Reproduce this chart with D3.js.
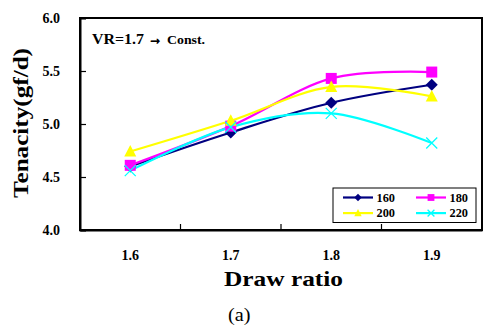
<!DOCTYPE html>
<html>
<head>
<meta charset="utf-8">
<script src="https://cdn.jsdelivr.net/npm/d3@7"></script>
<style>
  body { margin: 0; background: #fff; }
  svg { display: block; font-family: "Liberation Serif", "Times New Roman", serif; }
</style>
</head>
<body>
<div id="chart"></div>
<script>
const drawRatios = ['1.6', '1.7', '1.8', '1.9'];
const yTicks = [4.0, 4.5, 5.0, 5.5, 6.0];
const s160 = [4.60, 4.92, 5.20, 5.37];
const s180 = [4.61, 4.98, 5.43, 5.49];
const s200 = [4.74, 5.03, 5.35, 5.26];
const s220 = [4.56, 4.97, 5.10, 4.82];

const series = [
  { name: '160', values: s160, color: '#000080', shape: 'diamond' },
  { name: '180', values: s180, color: '#ff00ff', shape: 'square' },
  { name: '200', values: s200, color: '#ffff00', shape: 'triangle' },
  { name: '220', values: s220, color: '#00ffff', shape: 'cross' },
];

const W = 483, H = 329;
const margin = { top: 18, right: 1, bottom: 99, left: 80 };
const width = W - margin.left - margin.right;
const height = H - margin.top - margin.bottom;

const svg = d3.select('#chart').append('svg')
  .attr('width', W).attr('height', H);
const g = svg.append('g').attr('transform', `translate(${margin.left},${margin.top})`);

const x = d3.scaleBand().domain(drawRatios).range([0, width]);
const y = d3.scaleLinear().domain([4, 6]).range([height, 0]);

// frame
g.append('rect')
  .attr('x', 0).attr('y', 0).attr('width', width).attr('height', height)
  .attr('fill', 'none').attr('stroke', '#000').attr('stroke-width', 2);

// y axis, ticks point inward
const yAxis = g.append('g')
  .call(d3.axisLeft(y).tickValues(yTicks).tickSize(-6).tickFormat(d3.format('.1f')).tickPadding(20));
yAxis.select('.domain').attr('stroke-width', 2);
yAxis.selectAll('.tick line').attr('stroke-width', 1.2);
yAxis.selectAll('.tick text')
  .attr('font-size', 14).attr('font-weight', 'bold').attr('fill', '#000')
  .attr('font-family', '"Liberation Serif", serif');

// x axis: labels centred in bands, separators between them
const xAxis = g.append('g').attr('transform', `translate(0,${height})`)
  .call(d3.axisBottom(x).tickSize(0).tickPadding(20));
xAxis.select('.domain').attr('stroke-width', 2);
xAxis.selectAll('.tick text')
  .attr('font-size', 14).attr('font-weight', 'bold').attr('fill', '#000')
  .attr('font-family', '"Liberation Serif", serif');
g.selectAll('.xsep')
  .data(drawRatios.slice(1))
  .enter().append('line')
  .attr('x1', d => x(d)).attr('x2', d => x(d))
  .attr('y1', height).attr('y2', height - 6)
  .attr('stroke', '#000').attr('stroke-width', 1.2);

// smoothed lines
const line = d3.line()
  .x((d, i) => x(drawRatios[i]) + x.bandwidth() / 2)
  .y(d => y(d))
  .curve(d3.curveCardinal.tension(0));

g.selectAll('.series-line')
  .data(series)
  .enter().append('path')
  .attr('class', 'series-line')
  .attr('d', d => line(d.values))
  .attr('fill', 'none')
  .attr('stroke', d => d.color)
  .attr('stroke-width', 2.2);

function drawMarker(sel, shape, color, k) {
  if (shape === 'diamond') {
    sel.append('path').attr('d', `M0,${-6 * k}L${6 * k},0L0,${6 * k}L${-6 * k},0Z`).attr('fill', color);
  } else if (shape === 'square') {
    sel.append('rect').attr('x', -5.5 * k).attr('y', -5.5 * k)
      .attr('width', 11 * k).attr('height', 11 * k).attr('fill', color);
  } else if (shape === 'triangle') {
    sel.append('path').attr('d', `M0,${-6.5 * k}L${6 * k},${5 * k}L${-6 * k},${5 * k}Z`).attr('fill', color);
  } else {
    const r = 5.5 * k;
    sel.append('path').attr('d', `M${-r},${-r}L${r},${r}M${r},${-r}L${-r},${r}`)
      .attr('stroke', color).attr('stroke-width', 1.3).attr('fill', 'none');
  }
}

series.forEach(s => {
  s.values.forEach((v, i) => {
    const m = g.append('g')
      .attr('transform', `translate(${x(drawRatios[i]) + x.bandwidth() / 2},${y(v)})`);
    drawMarker(m, s.shape, s.color, 1);
  });
});

// legend
const lg = svg.append('g').attr('transform', 'translate(333,188)');
lg.append('rect').attr('width', 143).attr('height', 34.5)
  .attr('fill', '#fff').attr('stroke', '#000').attr('stroke-width', 1);
series.forEach((s, i) => {
  const col = i % 2, row = Math.floor(i / 2);
  const item = lg.append('g').attr('transform', `translate(${10 + col * 73},${9.5 + row * 15.6})`);
  item.append('line').attr('x1', 0).attr('x2', 30).attr('stroke', s.color).attr('stroke-width', 2.2);
  const m = item.append('g').attr('transform', 'translate(15,0)');
  drawMarker(m, s.shape, s.color, 0.62);
  item.append('text').attr('x', 33.5).attr('y', 4.3)
    .attr('font-size', 12).attr('font-weight', 'bold')
    .attr('textLength', 18.5).attr('lengthAdjust', 'spacingAndGlyphs')
    .text(s.name);
});

// annotation
svg.append('text').attr('x', 92).attr('y', 44)
  .attr('font-size', 14).attr('font-weight', 'bold')
  .attr('textLength', 52).attr('lengthAdjust', 'spacingAndGlyphs')
  .text('VR=1.7');
svg.append('text').attr('x', 148).attr('y', 44)
  .attr('font-size', 18).attr('font-weight', 'bold')
  .attr('stroke', '#000').attr('stroke-width', 0.9)
  .attr('textLength', 14).attr('lengthAdjust', 'spacingAndGlyphs')
  .text('\u2192');
svg.append('text').attr('x', 167).attr('y', 44)
  .attr('font-size', 12).attr('font-weight', 'bold')
  .attr('textLength', 38).attr('lengthAdjust', 'spacingAndGlyphs')
  .text('Const.');

// axis titles
svg.append('text')
  .attr('x', 224).attr('y', 286)
  .attr('font-size', 21).attr('font-weight', 'bold')
  .attr('textLength', 119).attr('lengthAdjust', 'spacingAndGlyphs')
  .text('Draw ratio');

svg.append('text')
  .attr('transform', `translate(28,${margin.top + height / 2 - 1}) rotate(-90)`)
  .attr('text-anchor', 'middle').attr('font-size', 22).attr('font-weight', 'bold')
  .attr('textLength', 150).attr('lengthAdjust', 'spacingAndGlyphs')
  .text('Tenacity(gf/d)');

svg.append('text')
  .attr('x', 228).attr('y', 321)
  .attr('font-size', 18)
  .attr('textLength', 22.5).attr('lengthAdjust', 'spacingAndGlyphs')
  .text('(a)');
</script>
</body>
</html>
